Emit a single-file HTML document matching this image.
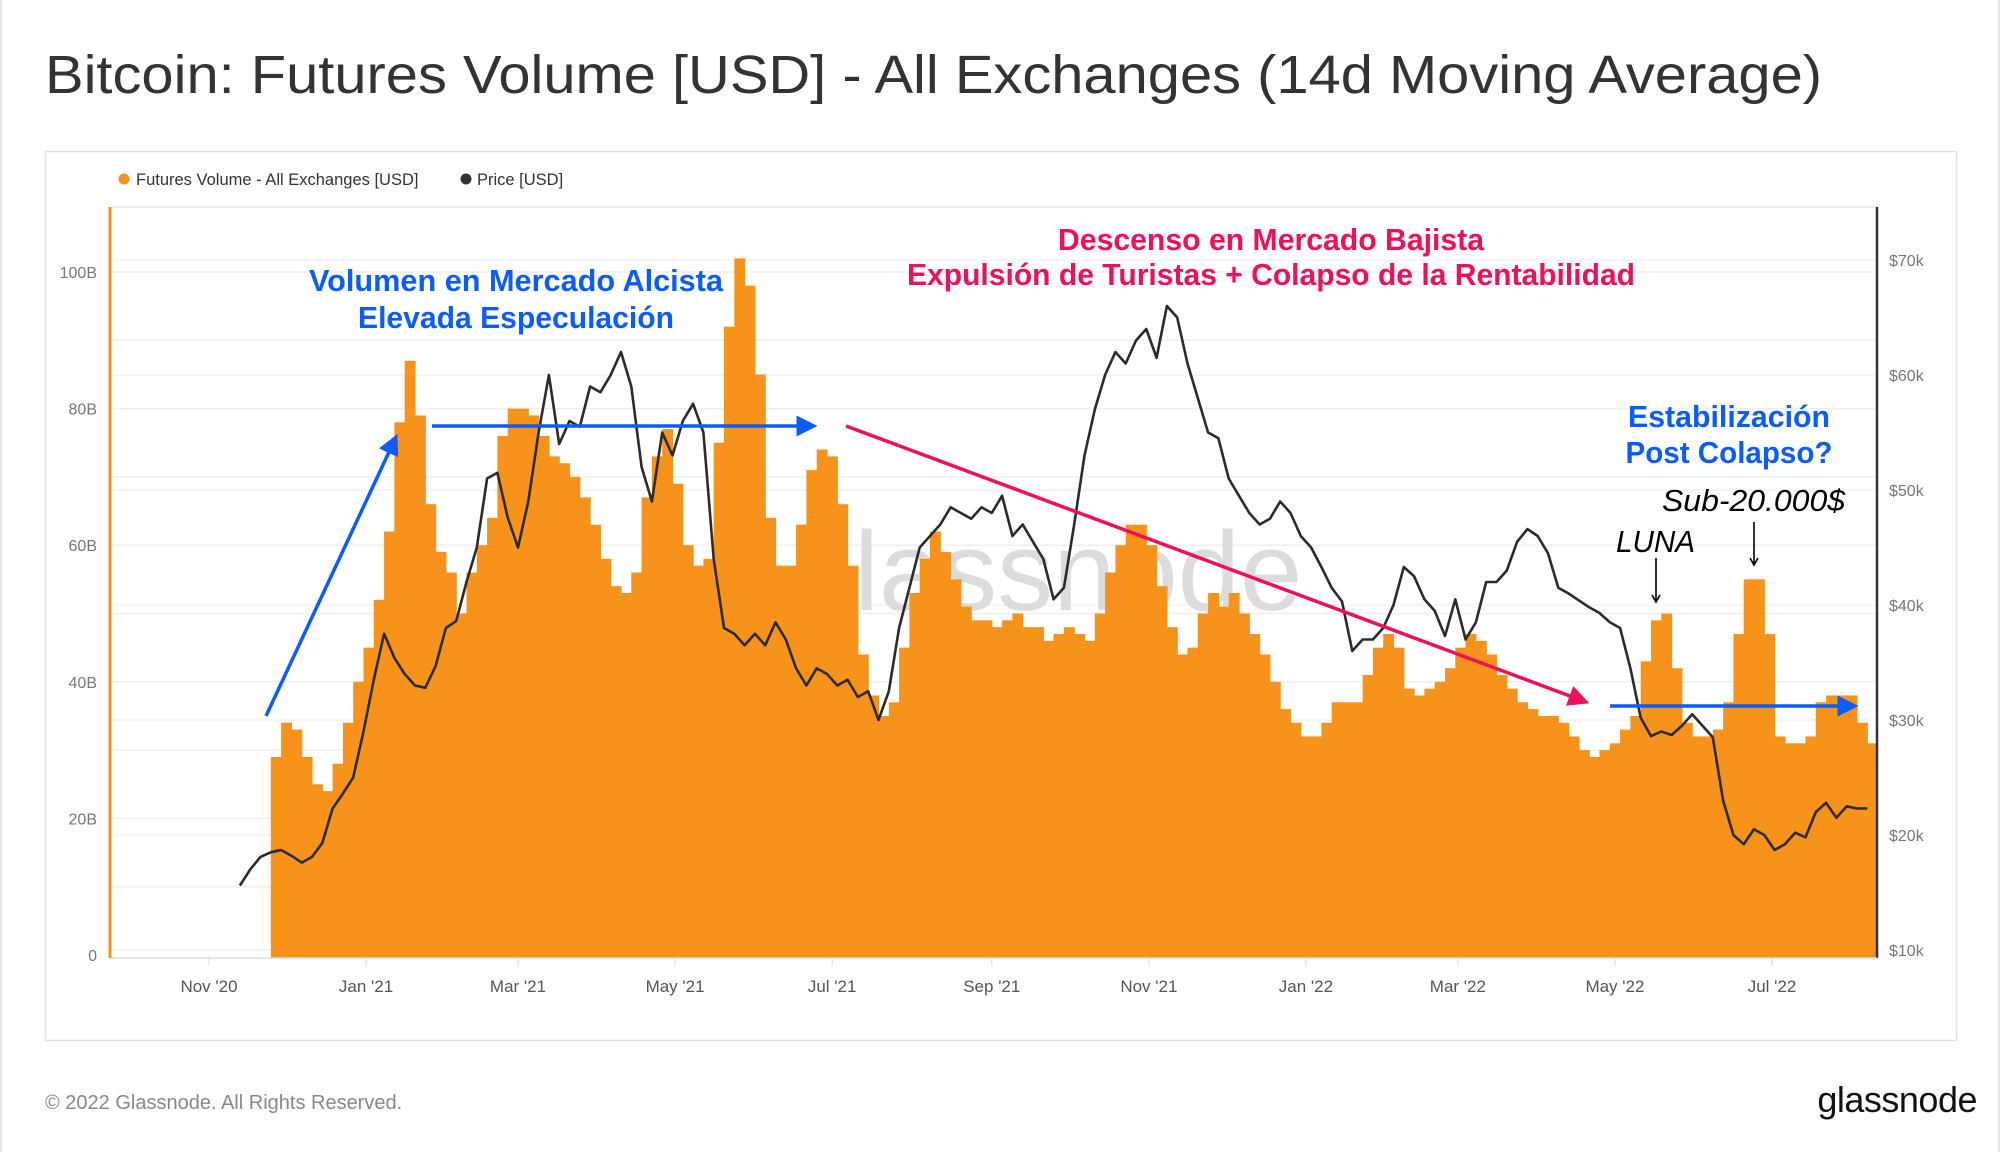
<!DOCTYPE html>
<html><head><meta charset="utf-8">
<style>
html,body{margin:0;padding:0;background:#fff;}
body{width:2000px;height:1152px;overflow:hidden;position:relative;}
svg{position:absolute;left:0;top:0;}
text{font-family:"Liberation Sans",sans-serif;}
</style></head>
<body>
<svg id="chart" width="2000" height="1152" viewBox="0 0 2000 1152">
  <line x1="1" y1="0" x2="1" y2="1152" stroke="#e6e6e6" stroke-width="2"/>
  <line x1="1999" y1="0" x2="1999" y2="1152" stroke="#e6e6e6" stroke-width="2"/>
  <text x="45" y="93" font-size="54" fill="#333" textLength="1777" lengthAdjust="spacingAndGlyphs">Bitcoin: Futures Volume [USD] - All Exchanges (14d Moving Average)</text>
  <rect x="45.5" y="151.5" width="1911" height="889" fill="none" stroke="#e3e3e3" stroke-width="1.5"/>
  <g>
    <circle cx="124" cy="179" r="5.5" fill="#f7931a"/>
    <text x="136" y="185" font-size="16.5" fill="#333">Futures Volume - All Exchanges [USD]</text>
    <circle cx="466" cy="179" r="5.5" fill="#333"/>
    <text x="477" y="185" font-size="16.5" fill="#333">Price [USD]</text>
  </g>
  <line x1="112" y1="207" x2="1877" y2="207" stroke="#e6e6e6" stroke-width="1.5"/>
  <g id="grid"></g>
  <text x="1047" y="610" font-size="112" fill="#dcdcdc" text-anchor="middle">glassnode</text>
  <g id="bars"></g>
  <path id="priceLine" fill="none" stroke="#2b2b2b" stroke-width="2.6" stroke-linejoin="round"/>
  <line x1="110" y1="207" x2="110" y2="958" stroke="#f7931a" stroke-width="3"/>
  <line x1="1877" y1="207" x2="1877" y2="958" stroke="#333" stroke-width="2.5"/>
  <line x1="112" y1="958" x2="1877" y2="958" stroke="#ddd" stroke-width="1.5"/>
  <g id="yLeft"></g>
  <g id="yRight"></g>
  <g id="xTicks"></g>

  <g>
    <defs>
      <marker id="blueHead" markerWidth="6" markerHeight="6" refX="5" refY="3" orient="auto" markerUnits="strokeWidth"><path d="M0,0 L6,3 L0,6 z" fill="#0a5cff"/></marker>
      <marker id="pinkHead" markerWidth="6" markerHeight="6" refX="5" refY="3" orient="auto" markerUnits="strokeWidth"><path d="M0,0 L6,3 L0,6 z" fill="#f0105a"/></marker>
      <marker id="blackHead" markerWidth="10" markerHeight="10" refX="8" refY="5" orient="auto" markerUnits="userSpaceOnUse"><path d="M1,1 L8,5 L1,9" fill="none" stroke="#000" stroke-width="1.6"/></marker>
    </defs>
    <line x1="266" y1="716" x2="396" y2="437" stroke="#0a5cff" stroke-width="3.5" marker-end="url(#blueHead)"/>
    <line x1="432" y1="426" x2="814" y2="426" stroke="#0a5cff" stroke-width="3.5" marker-end="url(#blueHead)"/>
    <line x1="846" y1="426" x2="1586" y2="702" stroke="#f0105a" stroke-width="3.5" marker-end="url(#pinkHead)"/>
    <line x1="1610" y1="706" x2="1855" y2="706" stroke="#0a5cff" stroke-width="3.5" marker-end="url(#blueHead)"/>
    <text x="516" y="291" font-size="31" font-weight="bold" fill="#0a5cff" text-anchor="middle" textLength="414" lengthAdjust="spacingAndGlyphs">Volumen en Mercado Alcista</text>
    <text x="516" y="328" font-size="31" font-weight="bold" fill="#0a5cff" text-anchor="middle" textLength="316" lengthAdjust="spacingAndGlyphs">Elevada Especulación</text>
    <text x="1271" y="250" font-size="31" font-weight="bold" fill="#f0105a" text-anchor="middle" textLength="426" lengthAdjust="spacingAndGlyphs">Descenso en Mercado Bajista</text>
    <text x="1271" y="285" font-size="31" font-weight="bold" fill="#f0105a" text-anchor="middle" textLength="728" lengthAdjust="spacingAndGlyphs">Expulsión de Turistas + Colapso de la Rentabilidad</text>
    <text x="1729" y="427" font-size="31" font-weight="bold" fill="#0a5cff" text-anchor="middle" textLength="202" lengthAdjust="spacingAndGlyphs">Estabilización</text>
    <text x="1729" y="463" font-size="31" font-weight="bold" fill="#0a5cff" text-anchor="middle" textLength="207" lengthAdjust="spacingAndGlyphs">Post Colapso?</text>
    <text x="1662" y="511" font-size="31" font-style="italic" fill="#000" textLength="183" lengthAdjust="spacingAndGlyphs">Sub-20.000$</text>
    <text x="1616" y="552" font-size="31" font-style="italic" fill="#000" textLength="79" lengthAdjust="spacingAndGlyphs">LUNA</text>
    <line x1="1656" y1="558" x2="1656" y2="602" stroke="#000" stroke-width="1.6" marker-end="url(#blackHead)"/>
    <line x1="1754" y1="522" x2="1754" y2="565" stroke="#000" stroke-width="1.6" marker-end="url(#blackHead)"/>
  </g>

  <text x="45" y="1109" font-size="20" fill="#888">© 2022 Glassnode. All Rights Reserved.</text>
  <text x="1977" y="1112" font-size="36" fill="#111" text-anchor="end" letter-spacing="-0.5">glassnode</text>
</svg>
<script>
// Data: 14d MA futures volume (billions USD), one value every 4 days starting day 24 after 2020-11-01
const volumeStartDay = 24;
const volumeStepDays = 4;
const volumeValues = [29,34,33,29,25,24,28,34,40,45,52,62,78,87,79,66,59,56,50,56,60,64,76,80,80,79,76,73,72,70,67,63,58,54,53,56,67,73,77,69,60,57,58,75,92,102,98,85,64,57,57,63,71,74,73,66,57,44,38,35,37,45,53,58,62,59,55,51,49,49,48,49,50,48,48,46,47,48,47,46,50,56,60,63,63,60,54,48,44,45,50,53,51,53,50,47,44,40,36,34,32,32,34,37,37,37,41,45,47,45,39,38,39,40,42,45,47,46,44,41,39,37,36,35,35,34,32,30,29,30,31,33,35,43,49,50,42,34,32,32,33,37,47,55,55,47,32,31,31,32,37,38,38,38,34,31];
// Price (thousands USD), one value every 4 days starting day 12
const priceStartDay = 12;
const priceStepDays = 4;
const priceValues = [15.6,17,18.1,18.5,18.7,18.2,17.6,18.1,19.3,22.3,23.6,25,29,33.5,37.5,35.4,34,33,32.8,34.7,38,38.6,42,45,51,51.5,47.6,45,49,55,60,54,56,55.5,59,58.5,60,62,59,52,49,55,53,56,57.5,55,44,38,37.5,36.5,37.5,36.5,38.5,37,34.5,33,34.5,34,33,33.5,32,32.5,30,32.5,38,41.5,45,46,47,48.5,48,47.5,48.5,48,49.5,46,47,45.5,44,40.5,41.5,47,53,57,60,62,61,63,64,61.5,66,65,61,58,55,54.5,51,49.5,48,47,47.5,49,48,46,45,43.3,41.5,40.3,36,37,37,38,40,43.3,42.5,40.5,39.5,37.3,40.5,37,38.5,42,42,43,45.5,46.6,46,44.5,41.5,41,40.4,39.8,39.3,38.5,38,34.5,30.2,28.6,29,28.7,29.5,30.5,29.5,28.5,23,20,19.2,20.5,20,18.7,19.2,20.2,19.8,22,22.8,21.5,22.5,22.3,22.3];
const leftTicks = [0,20,40,60,80,100];
const leftTickLabels = ["0","20B","40B","60B","80B","100B"];
const rightTicks = [10,20,30,40,50,60,70];
const rightTickLabels = ["$10k","$20k","$30k","$40k","$50k","$60k","$70k"];
const monthTickDays = [0,61,120,181,242,304,365,426,485,546,607];
const monthTickLabels = ["Nov '20","Jan '21","Mar '21","May '21","Jul '21","Sep '21","Nov '21","Jan '22","Mar '22","May '22","Jul '22"];

const NS = "http://www.w3.org/2000/svg";
function xDay(d){ return 209 + d*2.575; }
function yVol(v){ return 955 - v*6.83; }
function yPrice(p){ return 950 - (p-10)*11.5; }
const BASE = 958;

const grid = document.getElementById('grid');
for (let v=10; v<=100; v+=10){
  const l=document.createElementNS(NS,'line');
  l.setAttribute('x1',112);l.setAttribute('x2',1877);
  l.setAttribute('y1',yVol(v));l.setAttribute('y2',yVol(v));
  l.setAttribute('stroke','#efefef');l.setAttribute('stroke-width','1.5');
  
  
  grid.appendChild(l);
}
rightTicks.forEach(p=>{
  const l=document.createElementNS(NS,'line');
  l.setAttribute('x1',112);l.setAttribute('x2',1877);
  l.setAttribute('y1',yPrice(p));l.setAttribute('y2',yPrice(p));
  l.setAttribute('stroke','#f2f2f2');l.setAttribute('stroke-width','1.5');
  
  
  grid.appendChild(l);
});
monthTickDays.forEach(d=>{
  const l=document.createElementNS(NS,'line');
  l.setAttribute('x1',xDay(d));l.setAttribute('x2',xDay(d));
  l.setAttribute('y1',958);l.setAttribute('y2',966);
  l.setAttribute('stroke','#e6e6e6');l.setAttribute('stroke-width','1.5');
  
  
  grid.appendChild(l);
});

const bars = document.getElementById('bars');
const bw = volumeStepDays*2.575;
volumeValues.forEach((v,i)=>{
  const d = volumeStartDay + i*volumeStepDays;
  const r=document.createElementNS(NS,'rect');
  const y=yVol(v);
  r.setAttribute('x',xDay(d));r.setAttribute('y',y);
  r.setAttribute('width',bw+0.6);r.setAttribute('height',BASE-y);
  r.setAttribute('fill','#f7931a');
  
  
  bars.appendChild(r);
});

let dpath='';
priceValues.forEach((p,i)=>{
  const d = priceStartDay + i*priceStepDays;
  dpath += (i?'L':'M') + xDay(d).toFixed(1) + ',' + yPrice(p).toFixed(1);
});
document.getElementById('priceLine').setAttribute('d',dpath);

const yl=document.getElementById('yLeft');
leftTicks.forEach((v,i)=>{
  const t=document.createElementNS(NS,'text');
  t.setAttribute('x',97);t.setAttribute('y',yVol(v)+6);
  t.setAttribute('text-anchor','end');t.setAttribute('font-size','16');t.setAttribute('fill','#777');
  
  
  t.textContent=leftTickLabels[i];
  yl.appendChild(t);
});
const yr=document.getElementById('yRight');
rightTicks.forEach((p,i)=>{
  const t=document.createElementNS(NS,'text');
  t.setAttribute('x',1889);t.setAttribute('y',yPrice(p)+6);
  t.setAttribute('font-size','16');t.setAttribute('fill','#777');
  
  
  t.textContent=rightTickLabels[i];
  yr.appendChild(t);
});
const xt=document.getElementById('xTicks');
monthTickDays.forEach((d,i)=>{
  const t=document.createElementNS(NS,'text');
  t.setAttribute('x',xDay(d));t.setAttribute('y',992);
  t.setAttribute('text-anchor','middle');t.setAttribute('font-size','17');t.setAttribute('fill','#555');
  
  
  t.textContent=monthTickLabels[i];
  xt.appendChild(t);
});
</script>
</body></html>
